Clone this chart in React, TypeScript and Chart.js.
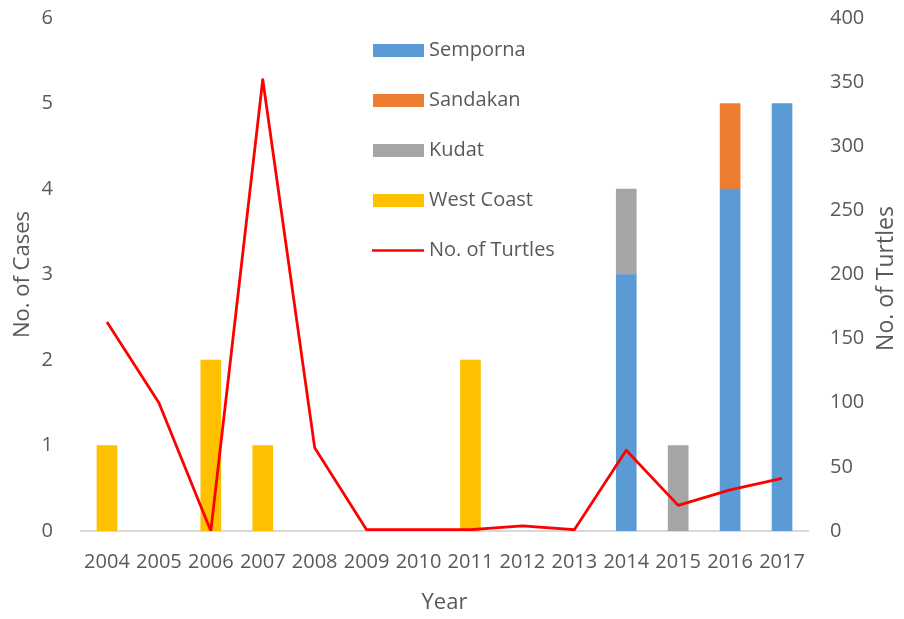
import React, { useEffect, useRef } from "react";
import { Chart, registerables } from "chart.js";

Chart.register(...registerables);

const years = ["2004", "2005", "2006", "2007", "2008", "2009", "2010", "2011", "2012", "2013", "2014", "2015", "2016", "2017"];
const semporna = [0, 0, 0, 0, 0, 0, 0, 0, 0, 0, 3, 0, 4, 5];
const sandakan = [0, 0, 0, 0, 0, 0, 0, 0, 0, 0, 0, 0, 1, 0];
const kudat = [0, 0, 0, 0, 0, 0, 0, 0, 0, 0, 1, 1, 0, 0];
const westCoast = [1, 0, 2, 1, 0, 0, 0, 2, 0, 0, 0, 0, 0, 0];
const turtles = [163, 100, 0, 352, 65, 1, 1, 1, 4, 1, 63, 20, 32, 41];

const leftTitle = "No. of Cases";
const rightTitle = "No. of Turtles";
const xTitle = "Year";

const FONT = "'Open Sans', sans-serif";
const TEXT = "#595959";

const nz = (arr: number[]) => arr.map((v) => (v === 0 ? null : v));

const legendPlugin = {
  id: "customLegend",
  afterDraw(chart: any) {
    const ctx = chart.ctx;
    ctx.save();
    ctx.font = `20px ${FONT}`;
    ctx.textBaseline = "middle";
    ctx.textAlign = "left";
    const order = [1, 2, 3, 4, 0];
    order.forEach((di, i) => {
      const ds = chart.data.datasets[di];
      const cy = 50.5 + i * 50;
      if (ds.type === "line") {
        ctx.strokeStyle = ds.borderColor;
        ctx.lineWidth = 2.5;
        ctx.beginPath();
        ctx.moveTo(372, cy);
        ctx.lineTo(424, cy);
        ctx.stroke();
      } else {
        ctx.fillStyle = ds.backgroundColor;
        ctx.fillRect(373, cy - 6.5, 51, 13);
      }
      ctx.fillStyle = TEXT;
      ctx.fillText(ds.label, 429, cy);
    });
    const ca = chart.chartArea;
    ctx.font = `23px ${FONT}`;
    ctx.translate(886, (ca.top + ca.bottom) / 2 + 4);
    ctx.rotate(-Math.PI / 2);
    ctx.textAlign = "center";
    ctx.fillText(rightTitle, 0, 0);
    ctx.restore();
  },
};

export default function App() {
  const ref = useRef<HTMLCanvasElement | null>(null);
  useEffect(() => {
    if (!ref.current) return;
    Chart.defaults.font.family = FONT;
    Chart.defaults.color = TEXT;
    const chart = new Chart(ref.current, {
      type: "bar",
      data: {
        labels: years,
        datasets: [
          {
            type: "line",
            label: "No. of Turtles",
            data: turtles,
            yAxisID: "y1",
            borderColor: "#FF0000",
            backgroundColor: "#FF0000",
            borderWidth: 2.8,
            borderJoinStyle: "round",
            pointRadius: 0,
            tension: 0,
            order: 0,
          } as any,
          { label: "Semporna", data: nz(semporna), backgroundColor: "#5B9BD5", yAxisID: "y", order: 1, barThickness: 20, borderWidth: 0 },
          { label: "Sandakan", data: nz(sandakan), backgroundColor: "#ED7D31", yAxisID: "y", order: 1, barThickness: 20, borderWidth: 0 },
          { label: "Kudat", data: nz(kudat), backgroundColor: "#A5A5A5", yAxisID: "y", order: 1, barThickness: 20, borderWidth: 0 },
          { label: "West Coast", data: nz(westCoast), backgroundColor: "#FFC000", yAxisID: "y", order: 1, barThickness: 20, borderWidth: 0 },
        ],
      },
      options: {
        animation: false,
        responsive: false,
        maintainAspectRatio: false,
        layout: { padding: { top: 18, left: 0, right: 0, bottom: 0 } },
        plugins: { legend: { display: false }, tooltip: { enabled: false } },
        scales: {
          x: {
            stacked: true,
            grid: { display: false, drawTicks: false },
            border: { display: true, color: "#D9D9D9", width: 2 },
            ticks: { font: { size: 20 }, padding: 19, color: TEXT, maxRotation: 0, autoSkip: false },
            title: { display: true, text: xTitle, font: { size: 22 }, color: TEXT, padding: { top: 0, bottom: 3 } },
            afterFit: (s: any) => { s.height = 88; s.paddingLeft = 0; s.paddingRight = 0; },
          },
          y: {
            position: "left",
            stacked: true,
            min: 0,
            max: 6,
            grid: { display: false, drawTicks: false },
            border: { display: false },
            ticks: { stepSize: 1, font: { size: 20 }, padding: 28, color: TEXT },
            title: { display: true, text: leftTitle, font: { size: 22 }, color: TEXT, padding: { top: 10, bottom: 0 } },
            afterFit: (s: any) => { s.width = 81; s.paddingTop = 0; s.paddingBottom = 0; },
          },
          y1: {
            position: "right",
            min: 0,
            max: 400,
            grid: { display: false, drawTicks: false },
            border: { display: false },
            ticks: { stepSize: 50, font: { size: 20 }, padding: 22, color: TEXT },
            afterFit: (s: any) => { s.width = 96; s.paddingTop = 0; s.paddingBottom = 0; },
          },
        },
      },
      plugins: [legendPlugin],
    });
    return () => chart.destroy();
  }, []);
  return (
    <div style={{ position: "fixed", left: 0, top: 0, width: 904, height: 619, background: "#fff" }}>
      <canvas ref={ref} width={904} height={619} style={{ width: 904, height: 619 }} />
    </div>
  );
}
